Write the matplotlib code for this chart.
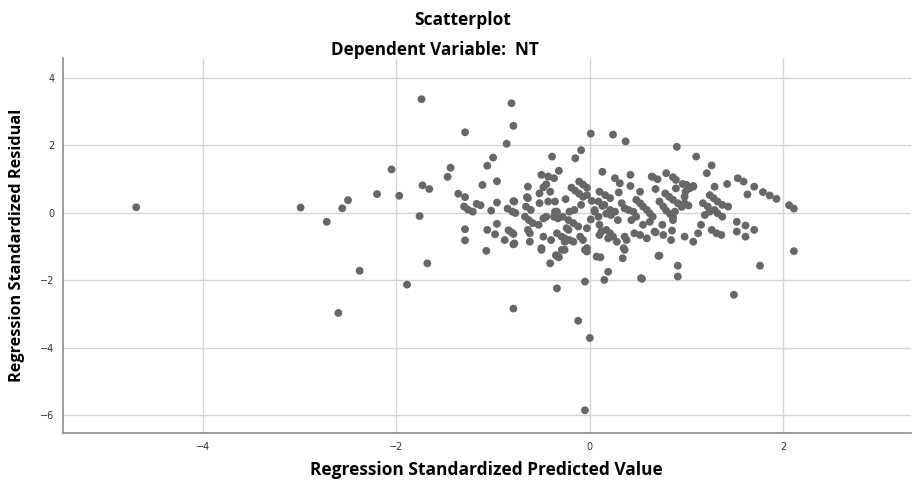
import numpy as np
import matplotlib.pyplot as plt

# standardized predicted value / standardized residual
pred_left = [-4.69, -2.99, -2.72, -2.56, -2.50, -2.20, -2.05, -1.97, -2.38, -2.60,
             -1.89, -1.68, -1.76, -1.73, -1.66, -1.74, -1.47, -1.44]
resid_left = [0.16, 0.15, -0.27, 0.13, 0.37, 0.55, 1.28, 0.50, -1.72, -2.97,
              -2.13, -1.50, -0.10, 0.81, 0.70, 3.36, 1.06, 1.33]

pred_mid1 = [-1.29, -0.81, -0.79, -0.86, -1.00, -1.06, -0.96, -1.11, -1.36, -1.29,
             -1.30, -1.26, -1.21, -1.17, -1.13, -0.96, -1.02, -0.85, -0.79, -0.77,
             -1.29, -1.29, -1.06, -0.96, -0.98, -0.84, -0.81, -0.79, -0.88, -0.79,
             -1.07, -0.79]
resid_mid1 = [2.38, 3.24, 2.57, 2.04, 1.63, 1.39, 0.93, 0.82, 0.56, 0.46,
              0.18, 0.09, 0.03, 0.26, 0.22, 0.30, 0.06, 0.12, 0.34, -0.01,
              -0.49, -0.82, -0.51, -0.33, -0.64, -0.52, -0.58, -0.63, -0.81, -0.94,
              -1.13, -2.84]

pred_mid2 = [-0.80, -0.78, -0.65, -0.66, -0.61, -0.67, -0.63, -0.59, -0.53, -0.48,
             -0.45, -0.52, -0.43, -0.36, -0.52, -0.64, -0.64, -0.45, -0.48, -0.50,
             -0.43, -0.37, -0.32, -0.39, -0.64, -0.62, -0.62, -0.78, -0.48, -0.50,
             -0.40, -0.41, -0.35, -0.32, -0.34, -0.29, -0.26, -0.24, -0.34, -0.37,
             -0.50, -0.26, -0.34, -0.36, -0.41]
resid_mid2 = [0.03, 0.33, 0.46, 0.18, 0.08, -0.12, -0.22, -0.31, -0.36, -0.17,
              -0.12, 0.28, 0.33, 0.33, 0.57, 0.77, 0.43, 0.84, 0.75, 1.12,
              1.07, 1.02, 1.24, 1.66, -0.51, -0.61, -0.86, -0.91, -0.71, -1.05,
              -0.81, -1.50, -1.26, -1.32, -0.61, -0.71, -0.86, -0.46, 0.03, -0.12,
              -1.10, -1.10, -2.24, 0.03, 0.62]

pred_mid3 = [-0.19, -0.15, -0.11, -0.07, -0.11, -0.07, -0.03, -0.09, -0.15, 0.01,
             0.24, 0.37, 0.13, -0.09, -0.21, -0.16, -0.33, -0.28, -0.22, -0.17,
             -0.12, -0.22, -0.26, -0.21, -0.17, -0.10, -0.07, -0.03, -0.03, -0.29,
             -0.33, -0.05, -0.03, -0.05, -0.12, 0.00, -0.05, -0.03, -0.25]
resid_mid3 = [0.74, 0.65, 0.56, 0.47, 0.92, 0.83, 0.74, 1.85, 1.61, 2.34,
              2.31, 2.11, 1.21, 0.23, 0.03, 0.08, -0.17, -0.12, -0.22, -0.31,
              -0.41, -0.51, -0.76, -0.81, -0.86, -0.71, -0.81, -0.46, -1.05, -1.10,
              -1.30, -1.10, -1.15, -2.04, -3.20, -3.71, -5.85, 0.52, 0.40]

pred_mid4 = [0.10, 0.16, 0.21, 0.09, 0.13, 0.15, 0.05, 0.21, 0.26, 0.33,
             0.36, 0.40, 0.26, 0.31, 0.42, 0.42, 0.05, 0.09, 0.10, 0.17,
             0.22, 0.29, 0.12, 0.17, 0.21, 0.24, 0.28, 0.36, 0.38, 0.35,
             0.10, 0.19, 0.43, 0.11, 0.34, 0.19, 0.15, 0.36, 0.07, 0.02,
             0.30, 0.01]
resid_mid4 = [0.62, 0.52, 0.43, 0.33, 0.20, 0.23, 0.03, 0.08, 0.03, 0.28,
              0.13, 0.08, 1.02, 0.87, 1.12, 0.79, 0.08, -0.12, -0.36, -0.03,
              -0.07, -0.22, -0.56, -0.51, -0.61, -0.71, -0.86, -0.71, -0.81, -1.05,
              -0.66, -0.76, -0.22, -1.32, -1.35, -1.75, -1.99, -1.10, -1.30, 0.35,
              0.60, -0.20]

pred_mid5 = [0.65, 0.70, 0.79, 0.86, 0.68, 0.78, 0.82, 0.86, 0.91, 0.95,
             0.89, 0.99, 1.00, 1.07, 0.98, 1.02, 0.72, 0.76, 0.79, 0.83,
             0.86, 0.52, 0.48, 0.52, 0.55, 0.59, 0.62, 0.65, 0.45, 0.48,
             0.55, 0.46, 0.52, 0.59, 0.68, 0.76, 0.84, 0.75, 0.85, 0.98,
             1.07, 1.12, 1.15, 0.62, 0.67, 0.86, 0.88, 0.89, 0.96, 0.98,
             0.64, 0.53, 0.71]
resid_mid5 = [1.06, 0.99, 1.17, 1.05, 0.70, 0.57, 0.47, 0.38, 0.28, 0.17,
              0.72, 0.62, 0.82, 0.77, 0.47, 0.21, 0.33, 0.18, 0.06, -0.04,
              -0.14, 0.62, 0.38, 0.28, 0.18, 0.08, -0.02, -0.12, 0.03, -0.12,
              -0.36, -0.61, -0.66, -0.76, -0.58, -0.66, -0.81, -0.36, -0.53, -0.71,
              -0.86, -0.61, -0.36, -0.27, -0.56, -0.22, 0.03, 0.97, 0.85, 0.28,
              1.07, -1.94, -1.28]

pred_right = [0.90, 1.10, 1.26, 1.21, 1.53, 1.59, 1.70, 1.63, 1.42, 1.79,
              1.86, 1.93, 2.06, 2.11, 2.11, 1.19, 1.22, 1.17, 1.24, 1.29,
              1.28, 1.32, 1.37, 1.43, 1.29, 1.32, 1.37, 1.26, 1.31, 1.36,
              1.52, 1.52, 1.61, 1.61, 1.70, 0.72, 0.91, 0.91, 1.49, 1.76,
              0.54, 1.03, 1.24, 1.07]
resid_right = [1.95, 1.66, 1.40, 1.17, 1.02, 0.92, 0.77, 0.54, 0.85, 0.61,
               0.51, 0.41, 0.22, 0.12, -1.14, -0.07, 0.18, 0.28, 0.52, 0.77,
               0.43, 0.33, 0.23, 0.18, 0.08, -0.02, -0.12, -0.51, -0.61, -0.66,
               -0.27, -0.56, -0.38, -0.71, -0.51, -1.27, -1.57, -1.89, -2.43, -1.57,
               -1.96, 0.72, 0.03, 0.79]

pred = np.array(pred_left + pred_mid1 + pred_mid2 + pred_mid3 + pred_mid4 + pred_mid5 + pred_right)
resid = np.array(resid_left + resid_mid1 + resid_mid2 + resid_mid3 + resid_mid4 + resid_mid5 + resid_right)

x_ticks = [-4, -2, 0, 2]
y_ticks = [4, 2, 0, -2, -4, -6]

font = ['Open Sans', 'DejaVu Sans']

fig = plt.figure(figsize=(9.13, 4.83), dpi=100)
ax = fig.add_axes([0.0687, 0.103, 0.929, 0.777])

ax.scatter(pred, resid, s=32, color='#676767', edgecolors='none', zorder=3)

ax.set_xlim(-5.45, 3.32)
ax.set_ylim(-6.53, 4.58)
ax.set_xticks(x_ticks)
ax.set_yticks(y_ticks)
ax.grid(True, color='#d4d4d4', linewidth=1.0, zorder=0)
ax.tick_params(length=0, labelsize=7, colors='#333333', pad=6)

for side in ['top', 'right']:
    ax.spines[side].set_visible(False)
for side in ['left', 'bottom']:
    ax.spines[side].set_color('#8c8c8c')
    ax.spines[side].set_linewidth(1.2)

ax.set_xlabel('Regression Standardized Predicted Value', family=font,
              fontweight='bold', fontsize=12.5, labelpad=7)
ax.set_ylabel('Regression Standardized Residual', family=font,
              fontweight='bold', fontsize=11.7, labelpad=11)

fig.text(0.507, 0.958, 'Scatterplot', ha='center', va='center', family=font,
         fontweight='bold', fontsize=12.5)
fig.text(0.476, 0.897, 'Dependent Variable:  NT', ha='center', va='center', family=font,
         fontweight='bold', fontsize=12.3)

fig.savefig('out.png', dpi=100)
